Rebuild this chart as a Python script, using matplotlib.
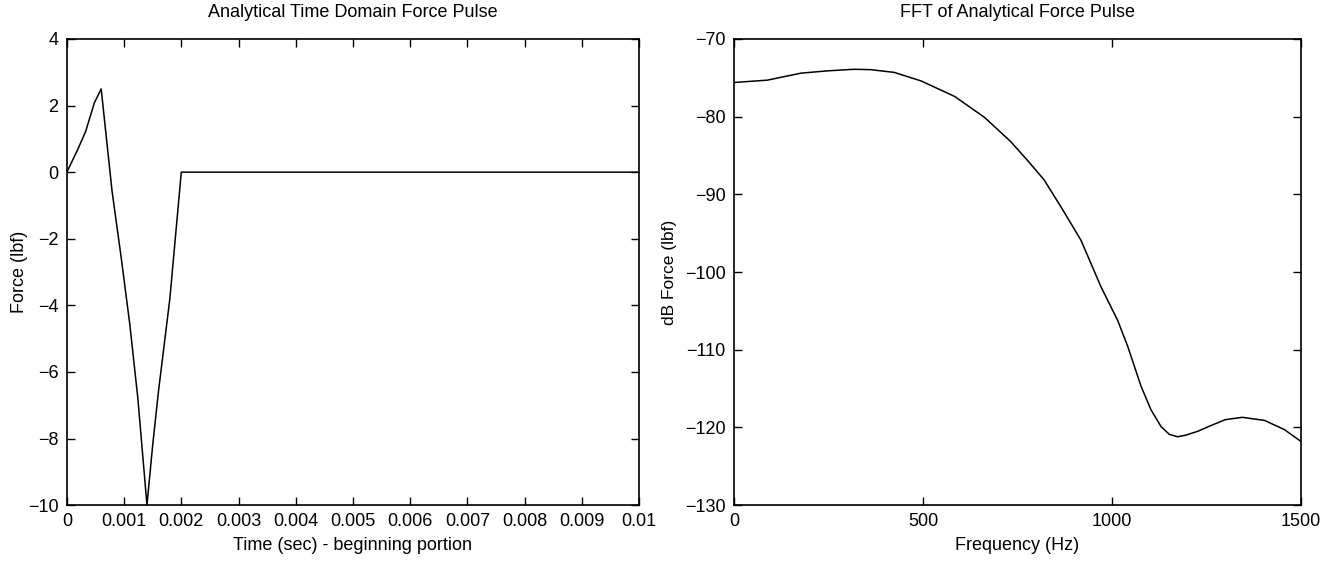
import matplotlib
matplotlib.use("Agg")
import matplotlib.pyplot as plt

plt.rcParams['font.family'] = ['Liberation Sans', 'DejaVu Sans']

# Left: time-domain force pulse
time_s = [0, 0.00019, 0.00033, 0.00048, 0.0006, 0.00079, 0.00095, 0.0011,
          0.00124, 0.0014, 0.0015, 0.0016, 0.0017, 0.0018, 0.0019, 0.002, 0.01]
force_lbf = [0, 0.68, 1.23, 2.08, 2.5, -0.57, -2.57, -4.57,
             -6.78, -10, -8.2, -6.6, -5.2, -3.8, -1.9, 0, 0]
time_ticks = [0, 0.001, 0.002, 0.003, 0.004, 0.005, 0.006, 0.007, 0.008, 0.009, 0.01]
time_ticklabels = ['0', '0.001', '0.002', '0.003', '0.004', '0.005', '0.006',
                   '0.007', '0.008', '0.009', '0.01']
force_ticks = [-10, -8, -6, -4, -2, 0, 2, 4]

# Right: FFT magnitude
freq_hz = [0, 88, 177, 248, 318, 362, 424, 495, 584, 663, 732, 776, 820, 865,
           918, 971, 1015, 1042, 1077, 1103, 1130, 1152, 1174, 1195, 1227, 1260,
           1300, 1345, 1404, 1457, 1500]
db_force = [-75.6, -75.3, -74.4, -74.1, -73.9, -73.95, -74.3, -75.4, -77.4, -80.1,
            -83.2, -85.6, -88.1, -91.6, -95.9, -101.9, -106.2, -109.6, -114.7,
            -117.7, -119.9, -120.9, -121.2, -121.0, -120.5, -119.8, -119.0,
            -118.7, -119.1, -120.3, -121.8]
freq_ticks = [0, 500, 1000, 1500]
db_ticks = [-130, -120, -110, -100, -90, -80, -70]

fig = plt.figure(figsize=(13.37, 5.65), dpi=100)
ax1 = fig.add_axes([0.050, 0.106, 0.428, 0.825])
ax2 = fig.add_axes([0.549, 0.106, 0.424, 0.825])

fs = 13

def style(ax):
    ax.tick_params(direction='in', top=True, right=True, length=6, width=1,
                   labelsize=fs, pad=6)
    for s in ax.spines.values():
        s.set_linewidth(1.2)

ax1.plot(time_s, force_lbf, color='black', lw=1.1)
ax1.set_xlim(0, 0.01)
ax1.set_ylim(-10, 4)
ax1.set_xticks(time_ticks)
ax1.set_xticklabels(time_ticklabels)
ax1.set_yticks(force_ticks)
ax1.set_yticklabels([str(v).replace('-', '\u2212') for v in force_ticks])
ax1.set_xlabel('Time (sec) - beginning portion', fontsize=fs, labelpad=5)
ax1.set_ylabel('Force (lbf)', fontsize=fs, labelpad=0)
ax1.set_title('Analytical Time Domain Force Pulse', fontsize=fs, pad=16)
style(ax1)

ax2.plot(freq_hz, db_force, color='black', lw=1.1)
ax2.set_xlim(0, 1500)
ax2.set_ylim(-130, -70)
ax2.set_xticks(freq_ticks)
ax2.set_yticks(db_ticks)
ax2.set_yticklabels([str(v).replace('-', '\u2212') for v in db_ticks])
ax2.set_xlabel('Frequency (Hz)', fontsize=fs, labelpad=5)
ax2.set_ylabel('dB Force (lbf)', fontsize=fs - 0.5, labelpad=6)
ax2.set_title('FFT of Analytical Force Pulse', fontsize=fs, pad=16)
style(ax2)

fig.savefig('out.png', dpi=100)
